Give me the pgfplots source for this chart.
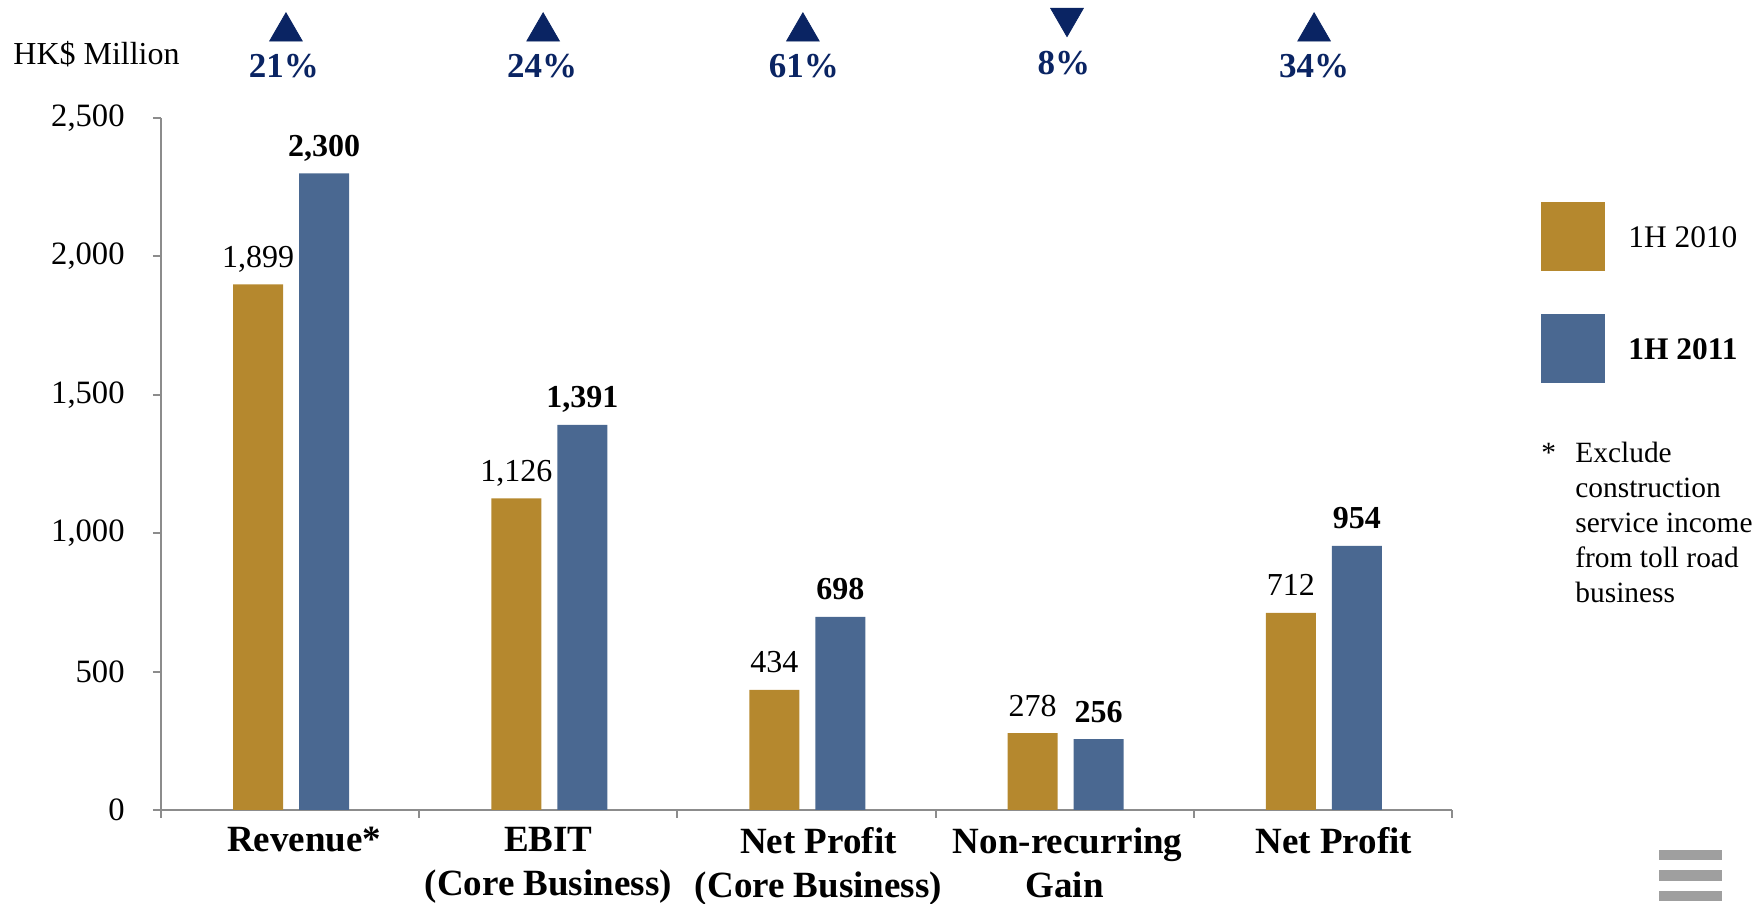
\documentclass[border=0pt]{standalone}
\usepackage{fontspec}
\setmainfont{Liberation Serif}
\usepackage{pgfplots}
\pgfplotsset{compat=1.18}
\definecolor{cgold}{HTML}{B5882E}
\definecolor{cblue}{HTML}{4A6891}
\definecolor{cnavy}{HTML}{0A2463}
\definecolor{caxis}{HTML}{8C8C8C}
\pgfplotsset{/pgf/number format/assume math mode=true, /pgf/number format/1000 sep={,}}
\begin{document}
\begin{tikzpicture}[x=0.5pt,y=0.5pt]
\useasboundingbox (0,0) rectangle (1752,904);
\begin{axis}[
  at={(80.5pt,47pt)}, anchor=south west,
  scale only axis, width=645.5pt, height=346pt,
  xmin=-0.5, xmax=4.5, ymin=0, ymax=2500,
  clip=false,
  axis lines*=left,
  axis line style={draw=caxis, line width=1.2pt},
  tick style={draw=caxis, line width=1pt},
  tick align=outside, major tick length=4pt,
  xtick={-0.5,0.5,1.5,2.5,3.5,4.5},
  x tick label as interval,
  xticklabels={\hspace*{14pt}Revenue*, EBIT\\(Core Business), \hspace*{12pt}Net Profit\\\hspace*{12pt}(Core Business), \hspace*{3pt}Non-recurring\\Gain, \hspace*{11pt}Net Profit},
  xticklabel style={align=center, font=\bfseries\fontsize{18.5}{22}\selectfont, anchor=north, inner sep=0pt, yshift=-4.5pt},
  ytick={0,500,...,2500},
  yticklabel style={font=\fontsize{16.3}{19}\selectfont, anchor=east, inner sep=0pt, xshift=-14pt},
]
\addplot[ybar, bar width=25pt, bar shift=-16pt, fill=cgold, draw=none,
  nodes near coords,
  every node near coord/.append style={font=\fontsize{16}{19}\selectfont, anchor=base, inner sep=0pt, xshift=-16pt, yshift=8.5pt, text=black}]
  coordinates {(0,1899) (1,1126) (2,434) (3,278) (4,712)};
\addplot[ybar, bar width=25pt, bar shift=17pt, fill=cblue, draw=none,
  nodes near coords,
  every node near coord/.append style={font=\bfseries\fontsize{16}{19}\selectfont, anchor=base, inner sep=0pt, xshift=17pt, yshift=8.5pt, text=black}]
  coordinates {(0,2300) (1,1391) (2,698) (3,256) (4,954)};
\addplot[only marks, mark=triangle*, mark size=9.4pt, color=cnavy]
  coordinates {(-0.016,2812) (0.98,2812) (1.986,2812) (3.966,2812)};
\addplot[only marks, mark=triangle*, mark size=9.4pt, color=cnavy, mark options={rotate=180}]
  coordinates {(3.009,2862)};
\node[anchor=base, inner sep=0pt, text=cnavy, font=\bfseries\fontsize{17.5}{20}\selectfont] at (axis cs:-0.024,2645) {21\%};
\node[anchor=base, inner sep=0pt, text=cnavy, font=\bfseries\fontsize{17.5}{20}\selectfont] at (axis cs:0.976,2645) {24\%};
\node[anchor=base, inner sep=0pt, text=cnavy, font=\bfseries\fontsize{17.5}{20}\selectfont] at (axis cs:1.99,2645) {61\%};
\node[anchor=base, inner sep=0pt, text=cnavy, font=\bfseries\fontsize{17.5}{20}\selectfont] at (axis cs:2.997,2656) {8\%};
\node[anchor=base, inner sep=0pt, text=cnavy, font=\bfseries\fontsize{17.5}{20}\selectfont] at (axis cs:3.966,2645) {34\%};
\end{axis}
% unit label
\node[anchor=base west, inner sep=0pt, font=\fontsize{16}{19}\selectfont] at (13,839) {HK\$ Million};
% legend
\fill[cgold] (1541,633) rectangle (1605,702);
\fill[cblue] (1541,521) rectangle (1605,590);
\node[anchor=base west, inner sep=0pt, font=\fontsize{15.7}{19}\selectfont] at (1628,656) {1H 2010};
\node[anchor=base west, inner sep=0pt, font=\bfseries\fontsize{15.7}{19}\selectfont] at (1628,544) {1H 2011};
% footnote
\node[anchor=base west, inner sep=0pt, font=\fontsize{14.7}{17.5}\selectfont] at (1541,441) {*};
\node[anchor=base west, inner sep=0pt, font=\fontsize{14.7}{17.5}\selectfont] at (1575,441) {Exclude};
\node[anchor=base west, inner sep=0pt, font=\fontsize{14.7}{17.5}\selectfont] at (1575,406) {construction};
\node[anchor=base west, inner sep=0pt, font=\fontsize{14.7}{17.5}\selectfont] at (1575,371) {service income};
\node[anchor=base west, inner sep=0pt, font=\fontsize{14.7}{17.5}\selectfont] at (1575,336) {from toll road};
\node[anchor=base west, inner sep=0pt, font=\fontsize{14.7}{17.5}\selectfont] at (1575,301) {business};
% corner icon
\fill[gray!75] (1659,44) rectangle (1722,54);
\fill[gray!75] (1659,23) rectangle (1722,34);
\fill[gray!75] (1659,3) rectangle (1722,13);
\end{tikzpicture}
\end{document}
